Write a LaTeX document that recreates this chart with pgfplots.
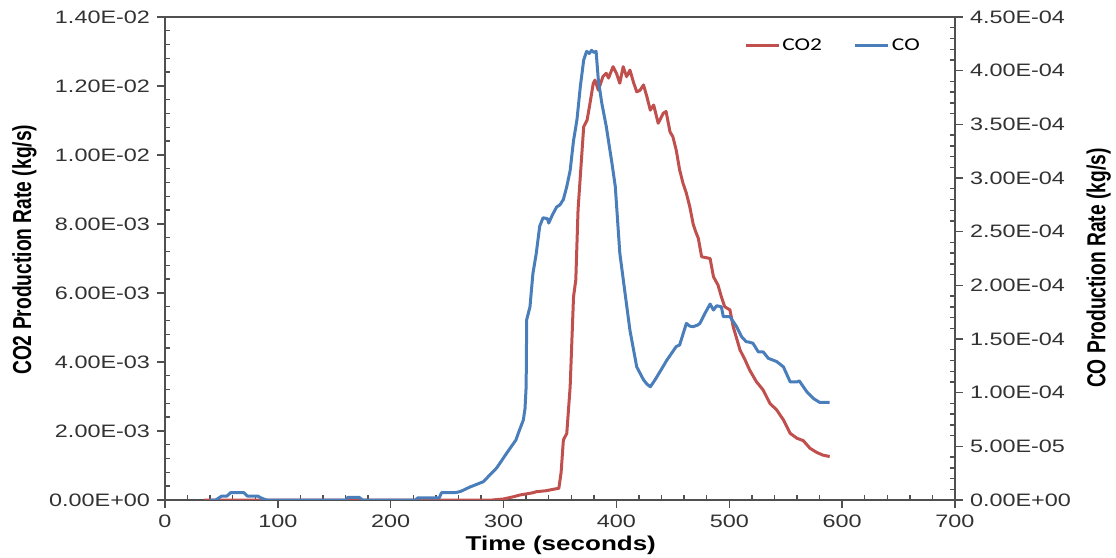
\documentclass[border=0pt]{standalone}
\usepackage{pgfplots}
\pgfplotsset{compat=1.18}
\usepackage{pgfplotstable}
\usepackage{fontspec}
\setmainfont{Liberation Sans}
\newfontfamily\tickfont[FakeStretch=1.3]{Liberation Sans}
\newfontfamily\xlabfont[FakeStretch=1.3]{Liberation Sans}
\newfontfamily\ylabfont[FakeStretch=0.74]{Liberation Sans}
\newfontfamily\legfont[FakeStretch=1.3]{Carlito}
\definecolor{cored}{RGB}{192,80,77}
\definecolor{coblue}{RGB}{74,126,187}
\definecolor{frame}{RGB}{80,80,80}
\definecolor{tlab}{RGB}{50,50,50}

\pgfplotstableread{
t v
35 0
290 0
300 3e-5
309 9.6e-5
314.5 1.45e-4
326 2.1e-4
329 2.4e-4
338 2.7e-4
344 3.1e-4
349 3.4e-4
351 8e-4
353 1.74e-3
356 1.93e-3
359 3.28e-3
362 5.89e-3
364 6.38e-3
366 8.41e-3
369 9.86e-3
371 1.082e-2
374 1.101e-2
376.6 1.150e-2
379.5 1.208e-2
381 1.217e-2
384 1.188e-2
388 1.227e-2
391 1.237e-2
393 1.223e-2
397 1.256e-2
400 1.237e-2
403 1.208e-2
406 1.256e-2
409 1.227e-2
412 1.246e-2
415 1.212e-2
418 1.183e-2
421 1.188e-2
424 1.203e-2
427 1.169e-2
430 1.130e-2
433 1.145e-2
437 1.092e-2
441.5 1.121e-2
444 1.126e-2
447.5 1.067e-2
450 1.053e-2
453 1.014e-2
456 9.57e-3
459 9.18e-3
462 8.89e-3
465 8.50e-3
468 8.0e-3
470 7.8e-3
472.6 7.58e-3
475.5 7.05e-3
483 7.0e-3
486 6.47e-3
490 6.23e-3
493 5.89e-3
496 5.60e-3
500.6 5.51e-3
503.5 5.02e-3
509.5 4.35e-3
514 4.06e-3
518 3.77e-3
524 3.43e-3
530 3.19e-3
536 2.80e-3
542 2.61e-3
548 2.32e-3
554 1.93e-3
560 1.79e-3
565.6 1.72e-3
571.5 1.50e-3
577.4 1.38e-3
583 1.30e-3
589 1.26e-3
}\cotwo

\pgfplotstableread{
t v
40 0
45 0
50 3.5e-6
55 3.7e-6
58 6.8e-6
70 6.8e-6
73 3.7e-6
82 3.7e-6
86 1.5e-6
90 0
160 0
162 2.5e-6
172 2.5e-6
175 0
222 0
224 2e-6
243 2e-6
245 6.8e-6
258 7e-6
262 8e-6
270 1.2e-5
282 1.7e-5
294 3.0e-5
303 4.4e-5
311 5.6e-5
313 6.2e-5
317.5 7.45e-5
319 8.5e-5
320 1.055e-4
320.5 1.68e-4
323.4 1.80e-4
326 2.11e-4
329 2.30e-4
332 2.55e-4
335 2.63e-4
339 2.62e-4
340 2.58e-4
343 2.65e-4
347 2.73e-4
350 2.75e-4
353 2.80e-4
356 2.92e-4
359 3.07e-4
362 3.35e-4
365 3.54e-4
368 3.85e-4
371 4.10e-4
373.6 4.18e-4
376 4.16e-4
378 4.19e-4
380 4.17e-4
382 4.18e-4
384 3.91e-4
387 3.70e-4
391 3.48e-4
396 3.14e-4
399 2.92e-4
403 2.30e-4
407.6 1.93e-4
412 1.58e-4
418 1.24e-4
424 1.12e-4
427 1.08e-4
430 1.055e-4
433 1.10e-4
436 1.15e-4
440 1.22e-4
444.5 1.30e-4
453 1.43e-4
456 1.444e-4
462 1.646e-4
465 1.62e-4
468 1.615e-4
472 1.63e-4
474 1.646e-4
478.5 1.74e-4
483 1.826e-4
486 1.77e-4
488.8 1.81e-4
493 1.80e-4
494.7 1.708e-4
500.6 1.708e-4
506.5 1.615e-4
511 1.52e-4
515 1.475e-4
518 1.47e-4
521 1.46e-4
525.7 1.38e-4
530 1.38e-4
534.6 1.32e-4
542 1.29e-4
548 1.24e-4
554 1.10e-4
560 1.10e-4
562 1.11e-4
568.6 1.01e-4
574.4 9.47e-5
580 9.1e-5
589 9.1e-5
}\cotab

\pgfplotsset{
  base/.style={
    scale only axis, width=395bp, height=241.5bp,
    at={(0,0)}, anchor=south west,
    xmin=0, xmax=700,
    axis line style={draw=frame, line width=1.1bp},
    tick style={draw=frame, line width=0.7bp},
    tick align=outside,
    major tick length=4bp,
    minor tick length=-2.5bp,
    scaled y ticks=false, scaled x ticks=false,
    ticklabel style={font=\tickfont\fontsize{9bp}{10bp}\selectfont, text=tlab},
  }
}

\begin{document}
\begin{tikzpicture}
\useasboundingbox (-82.5bp,-29bp) rectangle (475.5bp,250bp);
\begin{axis}[base,
  ymin=0, ymax=0.014,
  xtick={0,100,200,300,400,500,600,700},
  xticklabels={0,100,200,300,400,500,600,700},
  minor x tick num=4,
  ytick={0,0.002,0.004,0.006,0.008,0.010,0.012,0.014},
  yticklabels={0.00E+00,2.00E-03,4.00E-03,6.00E-03,8.00E-03,1.00E-02,1.20E-02,1.40E-02},
  minor y tick num=4,
  ytick pos=left, xtick pos=bottom,
  xlabel={Time (seconds)},
  ylabel={CO2 Production Rate (kg/s)},
  every axis x label/.style={at={(axis description cs:0.501,-0.093)}, anchor=center,
    font=\xlabfont\bfseries\fontsize{10bp}{12bp}\selectfont},
  every axis y label/.style={at={(axis description cs:-0.178,0.518)}, anchor=center, rotate=90,
    font=\ylabfont\bfseries\fontsize{13bp}{14bp}\selectfont},
]
\addplot[cored, line width=1.5bp, line join=round] table[x=t,y=v] {\cotwo};
\end{axis}
\begin{axis}[base,
  axis x line=none,
  axis y line*=right,
  ymin=0, ymax=4.5e-4,
  ytick={0,5e-5,1e-4,1.5e-4,2e-4,2.5e-4,3e-4,3.5e-4,4e-4,4.5e-4},
  yticklabels={0.00E+00,5.00E-05,1.00E-04,1.50E-04,2.00E-04,2.50E-04,3.00E-04,3.50E-04,4.00E-04,4.50E-04},
  minor y tick num=4,
  ylabel={CO Production Rate (kg/s)},
  every axis y label/.style={at={(axis description cs:1.182,0.48)}, anchor=center, rotate=90,
    font=\ylabfont\bfseries\fontsize{13bp}{14bp}\selectfont},
  legend columns=2,
  legend style={at={(axis description cs:0.966,0.94)}, anchor=east, draw=none, fill=none,
    font=\legfont\fontsize{9bp}{10bp}\selectfont,
    nodes={inner xsep=1bp, inner ysep=1bp},
    /tikz/every even column/.append style={column sep=15bp}},
  legend image code/.code={\draw[#1] (0bp,0bp) -- (16.5bp,0bp);},
]
\addlegendimage{cored, line width=1.5bp}
\addlegendentry{CO2}
\addplot[coblue, line width=1.5bp, line join=round] table[x=t,y=v] {\cotab};
\addlegendentry{CO}
\end{axis}
\end{tikzpicture}
\end{document}
